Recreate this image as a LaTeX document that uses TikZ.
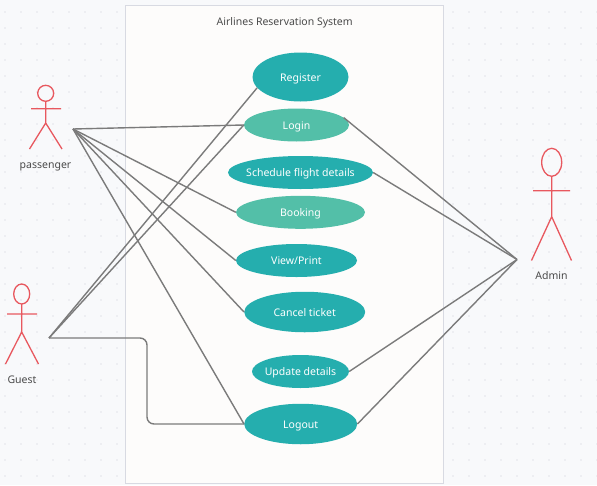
\documentclass[tikz,border=0pt]{standalone}
\usepackage{fontspec}
\setmainfont{Noto Sans}
\usetikzlibrary{shapes.geometric}
\definecolor{bgc}{HTML}{F8F9FB}
\definecolor{framefill}{HTML}{FDFCFB}
\definecolor{framec}{HTML}{D8DAE2}
\definecolor{dotc}{HTML}{E2E4E9}
\definecolor{teal}{HTML}{25AEAE}
\definecolor{mint}{HTML}{53BFA8}
\definecolor{actorc}{HTML}{E8585F}
\definecolor{linec}{HTML}{7B7B7B}
\definecolor{txt}{HTML}{4A4A4A}
\newcommand{\zw}[1]{\makebox[0pt][c]{#1}}
\tikzset{
  x=1pt,y=-1pt,
  uc/.style={ellipse,fill=#1,text=white,inner sep=0pt,text height=8pt,text depth=0pt,font=\fontsize{10.5}{12}\selectfont},
  lbl/.style={text=txt,font=\fontsize{10.5}{12}\selectfont,inner sep=0pt,text height=8pt,text depth=0pt},
  conn/.style={draw=linec,line width=1.4pt},
  stick/.style={draw=actorc,line width=1.3pt},
}
\begin{document}
\begin{tikzpicture}
\useasboundingbox (0,0) rectangle (597,485);
\fill[bgc] (0,0) rectangle (597,485);
\foreach \i in {0,...,37}\foreach \j in {0,...,29}{\fill[dotc] (5+16*\i,12+16*\j) circle (0.8);}
\node[draw=framec,fill=framefill,line width=1.5pt,inner sep=0pt,minimum width=318pt,minimum height=478pt] (frame) at (284.5,244.5) {};
\node[lbl] (title) at (284.7,21) {Airlines Reservation System};
\node[uc=teal,minimum width=96pt,minimum height=49pt] (register) at (300.5,77) {\zw{Register}};
\node[uc=mint,minimum width=105pt,minimum height=33pt] (login) at (296.5,125) {\zw{Login}};
\node[uc=teal,minimum width=145pt,minimum height=33pt] (schedule) at (300.5,172.5) {\zw{Schedule flight details}};
\node[uc=mint,minimum width=129pt,minimum height=33pt] (booking) at (300.5,212.3) {\zw{Booking}};
\node[uc=teal,minimum width=121pt,minimum height=33pt] (view) at (296.5,260.5) {\zw{View/Print}};
\node[uc=teal,minimum width=121pt,minimum height=40.5pt] (cancel) at (304.7,312) {\zw{Cancel ticket}};
\node[uc=teal,minimum width=97pt,minimum height=33pt] (update) at (300.5,371.5) {\zw{Update details}};
\node[uc=teal,minimum width=113pt,minimum height=40.5pt] (logout) at (300.7,424) {\zw{Logout}};
\coordinate (pas) at (73,129);
\coordinate (gue) at (49,338);
\coordinate (adm) at (517,259.5);
\draw[conn] (pas) -- (login.west);
\draw[conn] (pas) -- (booking.west);
\draw[conn] (pas) -- (view.west);
\draw[conn] (pas) -- (cancel.west);
\draw[conn] (pas) -- (logout.west);
\draw[conn] (gue) -- (register.194);
\draw[conn] (gue) -- (login.west);
\draw[conn,rounded corners=7pt] (gue) -- (147,338) -- (147,424) -- (logout.west);
\draw[conn] (adm) -- (login.9);
\draw[conn] (adm) -- (schedule.east);
\draw[conn] (adm) -- (update.east);
\draw[conn] (adm) -- (logout.east);
% passenger
\draw[stick] (45.7,93.3) ellipse (8 and 8);
\draw[stick] (45.7,101.3) -- (45.7,123) (31,108.7) -- (61,108.7) (29.5,149) -- (45.7,123) -- (62,149);
\node[lbl] (plabel) at (45.5,164) {passenger};
% guest
\draw[stick] (21.7,294) ellipse (8 and 10);
\draw[stick] (21.7,304) -- (21.7,332) (7,314) -- (37,314) (5.5,364) -- (21.7,332) -- (38.5,364);
\node[lbl] (glabel) at (22,379) {Guest};
% admin
\draw[stick] (551.7,162.3) ellipse (10 and 14);
\draw[stick] (551.7,176.3) -- (551.7,216.7) (533,190.7) -- (570,190.7) (531.5,260.5) -- (551.7,216.7) -- (571.5,260.5);
\node[lbl] (alabel) at (551.5,275) {Admin};
\end{tikzpicture}
\end{document}
